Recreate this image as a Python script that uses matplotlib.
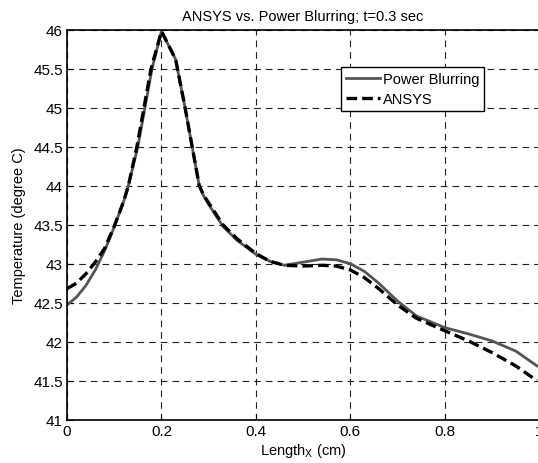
import matplotlib.pyplot as plt

plt.rcParams['font.family'] = ['Liberation Sans', 'DejaVu Sans']

# Power Blurring (solid)
x_pb = [0, 0.02, 0.04, 0.06, 0.08, 0.10, 0.12, 0.13, 0.15, 0.165, 0.18, 0.20,
        0.23, 0.25, 0.265, 0.28, 0.29, 0.30, 0.33, 0.36, 0.40, 0.43, 0.46, 0.50,
        0.54, 0.57, 0.60, 0.63, 0.66, 0.70, 0.74, 0.80, 0.85, 0.90, 0.95, 0.995]
t_pb = [42.47, 42.57, 42.72, 42.92, 43.17, 43.47, 43.80, 44.00, 44.50, 45.00,
        45.50, 45.98, 45.62, 45.00, 44.50, 44.00, 43.86, 43.76, 43.48, 43.30, 43.12,
        43.03, 42.98, 43.02, 43.06, 43.05, 43.00, 42.90, 42.75, 42.52, 42.33,
        42.18, 42.10, 42.01, 41.88, 41.69]

# ANSYS (dashed)
x_an = [0, 0.02, 0.04, 0.06, 0.08, 0.10, 0.12, 0.13, 0.148, 0.163, 0.178, 0.20,
        0.23, 0.25, 0.265, 0.28, 0.29, 0.30, 0.33, 0.36, 0.40, 0.43, 0.46, 0.50,
        0.54, 0.57, 0.60, 0.63, 0.66, 0.70, 0.74, 0.80, 0.85, 0.90, 0.95, 0.995]
t_an = [42.68, 42.75, 42.87, 43.02, 43.20, 43.48, 43.80, 44.00, 44.50, 45.00,
        45.50, 45.98, 45.62, 45.00, 44.50, 44.00, 43.87, 43.78, 43.50, 43.32, 43.13,
        43.03, 42.98, 42.97, 42.98, 42.97, 42.92, 42.82, 42.68, 42.47, 42.30,
        42.14, 42.01, 41.86, 41.69, 41.50]

xticks = [0, 0.2, 0.4, 0.6, 0.8, 1]
xlabels = ['0', '0.2', '0.4', '0.6', '0.8', '1']
yticks = [41, 41.5, 42, 42.5, 43, 43.5, 44, 44.5, 45, 45.5, 46]
ylabels = ['41', '41.5', '42', '42.5', '43', '43.5', '44', '44.5', '45', '45.5', '46']

fig = plt.figure(figsize=(5.38, 4.64), dpi=100)
ax = fig.add_axes([0.1245, 0.0933, 0.878, 0.8405])

ax.plot(x_pb, t_pb, color='#555555', linewidth=2, label='Power Blurring')
ax.plot(x_an, t_an, color='black', linewidth=2.4, linestyle=(0, (3.2, 1.5)), label='ANSYS')

ax.set_xlim(0, 1)
ax.set_ylim(41, 46)
ax.set_xticks(xticks)
ax.set_xticklabels(xlabels)
ax.set_yticks(yticks)
ax.set_yticklabels(ylabels)
ax.tick_params(direction='in', length=4, labelsize=11, width=0.8, pad=3)
ax.grid(True, color='#222222', linestyle=(0, (6, 4.5)), linewidth=0.8)
for s in ax.spines.values():
    s.set_linewidth(1.2)

ax.set_title('ANSYS vs. Power Blurring; t=0.3 sec', fontsize=10.5, pad=7)
ax.set_xlabel('Length$_\\mathregular{X}$ (cm)', fontsize=10.5, labelpad=2)
ax.set_ylabel('Temperature (degree C)', fontsize=10.5, labelpad=5)

leg = ax.legend(loc='upper left', bbox_to_anchor=(0.580, 0.905), fontsize=10.5,
                frameon=True, fancybox=False, edgecolor='black', framealpha=1,
                borderpad=0.35, handlelength=2.3, handletextpad=0.2, labelspacing=0.4,
                borderaxespad=0)
leg.get_frame().set_linewidth(1)

fig.savefig('out.png', dpi=100)
